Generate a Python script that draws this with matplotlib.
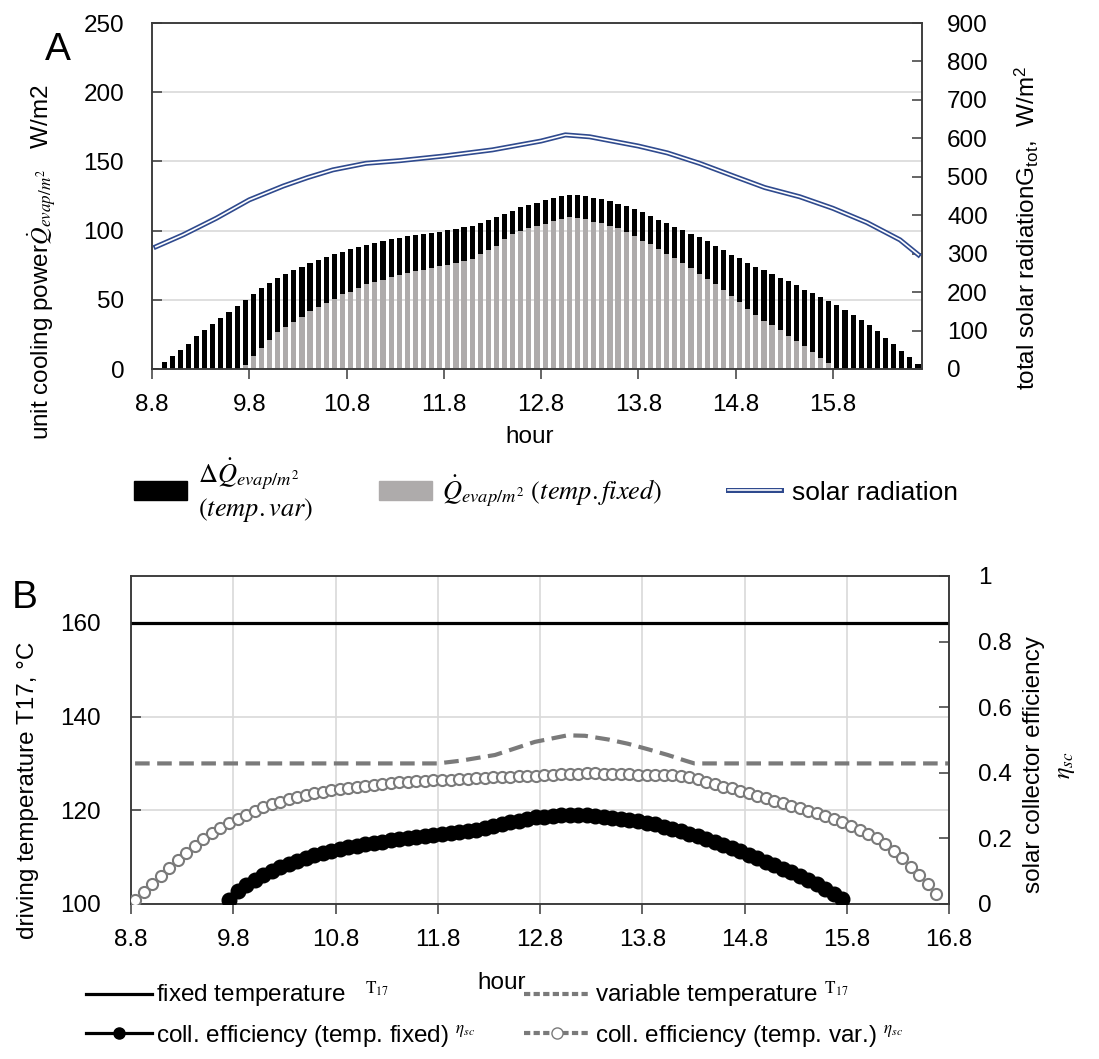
import numpy as np
import matplotlib
matplotlib.use("Agg")
import matplotlib.pyplot as plt
from matplotlib.lines import Line2D
from matplotlib.patches import Patch

plt.rcParams['font.family'] = ['Liberation Sans', 'DejaVu Sans']
plt.rcParams['mathtext.fontset'] = 'stix'

W, H = 1099, 1059

#%% data, panel A (5 min steps, 8.8 h ... 16.7 h)
hours = 8.8 + (np.arange(95) + 0.5) / 12

q_var = [1.0, 5.3, 9.7, 14.0, 18.4, 23.5, 28.0, 32.5, 36.7, 41.3, 45.4, 49.8,
         53.9, 58.3, 61.9, 66.0, 69.0, 71.4, 74.0, 76.5, 78.6, 81.0, 83.0, 84.7,
         86.4, 87.9, 89.6, 91.3, 92.2, 93.7, 94.7, 95.9, 96.8, 97.6, 98.5, 99.3,
         100.2, 101.5, 102.7, 103.6, 105.3, 108.0, 109.7, 112.1, 114.0, 117.0, 118.7, 120.1,
         121.8, 123.5, 125.0, 126.0, 125.5, 124.8, 123.5, 122.6, 121.1, 119.4, 117.7, 115.3,
         113.1, 110.4, 108.0, 105.3, 102.9, 100.2, 97.6, 95.1, 92.2, 88.8, 86.2, 82.5,
         80.1, 76.9, 74.0, 71.4, 68.4, 66.0, 63.6, 60.7, 57.3, 54.9, 51.9, 49.0,
         45.9, 42.7, 39.3, 35.7, 31.6, 27.2, 22.3, 18.2, 13.1, 8.5, 3.4]
q_fixed = [0] * 11 + [
    3.0, 9.7, 15.0, 21.0, 26.5, 30.3, 34.2, 37.6, 41.7, 44.7, 47.8, 50.5,
    53.9, 55.8, 58.3, 61.2, 62.9, 64.3, 66.3, 68.0, 69.4, 70.9, 71.8, 73.3,
    74.3, 75.5, 76.7, 78.2, 79.6, 83.0, 85.9, 89.0, 93.9, 97.6, 100.0, 102.0, 103.0,
    104.9, 106.8, 108.3, 109.7, 109.2, 108.3, 106.3, 105.3, 103.2, 101.7, 98.8, 95.9,
    92.7, 90.0, 86.4, 83.0, 80.1, 76.7, 73.3, 68.9, 64.8, 61.2, 56.8, 52.4,
    48.1, 43.7, 39.3, 35.0, 31.6, 28.2, 23.8, 20.4, 16.5, 12.6, 8.3, 4.1] + [0] * 11

solar_h = [8.84, 9.12, 9.46, 9.8, 10.15, 10.4, 10.66, 11.0, 11.35, 11.8, 12.3, 12.8,
           13.05, 13.3, 13.8, 14.1, 14.43, 14.8, 15.1, 15.46, 15.8, 16.15, 16.49, 16.68]
solar = [318, 349, 392, 440, 476, 498, 518, 535, 542, 554, 570, 593,
         609, 604, 580, 562, 535, 500, 472, 448, 418, 381, 336, 297]

#%% data, panel B
t_fixed_h = [8.8, 16.8]
t_fixed = [160, 160]
t_var_h = [8.84, 11.8, 12.03, 12.36, 12.75, 13.07, 13.24, 13.47, 13.66, 13.86, 14.05, 14.22, 14.31, 16.8]
t_var = [130, 130, 130.6, 131.8, 134.6, 136.0, 135.9, 135.1, 134.2, 133.0, 131.8, 130.6, 130.0, 130]

eff_var = [0.012, 0.037, 0.061, 0.086, 0.111, 0.134, 0.156, 0.178, 0.197, 0.215, 0.231, 0.246,
           0.259, 0.271, 0.284, 0.295, 0.304, 0.312, 0.319, 0.326, 0.332, 0.337, 0.342, 0.348,
           0.352, 0.355, 0.358, 0.361, 0.364, 0.367, 0.369, 0.371, 0.373, 0.375, 0.376, 0.377,
           0.378, 0.379, 0.380, 0.381, 0.383, 0.385, 0.386, 0.387, 0.388, 0.389, 0.390, 0.391,
           0.392, 0.394, 0.396, 0.397, 0.397, 0.398, 0.398, 0.397, 0.396, 0.396, 0.395, 0.394,
           0.393, 0.393, 0.392, 0.392, 0.390, 0.386, 0.380, 0.373, 0.366, 0.358, 0.353, 0.345,
           0.337, 0.330, 0.323, 0.315, 0.308, 0.300, 0.292, 0.285, 0.277, 0.269, 0.260, 0.249,
           0.239, 0.226, 0.214, 0.200, 0.183, 0.163, 0.139, 0.114, 0.087, 0.061, 0.030]
eff_fixed = [0.012, 0.040, 0.058, 0.074, 0.088, 0.102, 0.113, 0.122, 0.131, 0.140, 0.148, 0.155,
             0.162, 0.169, 0.174, 0.178, 0.183, 0.187, 0.190, 0.194, 0.197, 0.200, 0.203, 0.206,
             0.210, 0.213, 0.215, 0.218, 0.222, 0.226, 0.232, 0.238, 0.243, 0.249, 0.254, 0.259,
             0.264, 0.266, 0.268, 0.270, 0.271, 0.271, 0.270, 0.268, 0.265, 0.263, 0.260, 0.257,
             0.253, 0.248, 0.243, 0.236, 0.229, 0.222, 0.214, 0.207, 0.198, 0.190, 0.181, 0.171,
             0.161, 0.150, 0.140, 0.129, 0.118, 0.108, 0.097, 0.085, 0.073, 0.060, 0.046, 0.030, 0.014]
eff_fixed_h = hours[11:84]

xticks = [8.8, 9.8, 10.8, 11.8, 12.8, 13.8, 14.8, 15.8, 16.8]
xlabels = ['8.8', '9.8', '10.8', '11.8', '12.8', '13.8', '14.8', '15.8', '16.8']

#%% styles
fs = 17.5
spine_c = '#3a3a3a'
grid_c = '#d9d9d9'
gray_bar = '#aeabab'
blue = '#2f4a8e'
gcol = '#7a7a7a'


def fx(px):
    return px / W


def fy(py):
    return 1 - py / H


def style(ax, rax):
    for a in (ax, rax):
        for s in a.spines.values():
            s.set_color(spine_c)
            s.set_linewidth(1.1)
    ax.tick_params(axis='y', direction='in', length=7, width=1.1, color=spine_c, labelsize=fs, pad=20)
    rax.tick_params(axis='y', direction='in', length=7, width=1.1, color=spine_c, labelsize=fs, pad=18)
    ax.tick_params(axis='x', direction='out', length=7, width=1.1, color=spine_c, labelsize=fs, pad=11)


fig = plt.figure(figsize=(W / 100, H / 100), dpi=100)

#%% panel A
ax1 = fig.add_axes([fx(152), fy(369), fx(922) - fx(152), fy(23) - fy(369)])
ax1.set_axisbelow(True)
q_var_a = np.array(q_var)
q_fixed_a = np.array(q_fixed)
bw = 0.64 / 12
ax1.bar(hours, q_fixed_a, width=bw, color=gray_bar, zorder=2)
ax1.bar(hours, q_var_a - q_fixed_a, bottom=q_fixed_a, width=bw, color='black', zorder=2)
ax1.set_xlim(8.8, 8.8 + 95 / 12)
ax1.set_ylim(0, 250)
ax1.set_yticks(range(0, 251, 50))
ax1.set_xticks(xticks[:-1])
ax1.set_xticklabels(xlabels[:-1])
ax1.grid(axis='y', color=grid_c, lw=1.2)
ax1r = ax1.twinx()
ax1r.plot(solar_h, solar, color=blue, lw=3.6, solid_joinstyle='round', zorder=3)
ax1r.plot(solar_h, solar, color='white', lw=1.2, zorder=4)
ax1r.set_ylim(0, 900)
ax1r.set_yticks(range(0, 901, 100))
style(ax1, ax1r)

fig.text(fx(58), fy(50), 'A', fontsize=28, ha='center', va='center')
fig.text(fx(42), fy(262), 'unit cooling power' + r'$\dot{Q}_{evap/m^2}$' + '   W/m2',
         rotation=90, ha='center', va='center', fontsize=fs)
fig.text(fx(1027), fy(228), r'total solar radiation$\mathregular{G_{tot}}$,  W/m$^\mathregular{2}$',
         rotation=90, ha='center', va='center', fontsize=fs)
fig.text(fx(530), fy(437), 'hour', ha='center', va='center', fontsize=fs)

h_solar = (Line2D([], [], color=blue, lw=3.6), Line2D([], [], color='white', lw=1.2))
fig.legend([Patch(color='black'), Patch(color=gray_bar), h_solar],
           [r'$\Delta\dot{Q}_{evap/m^2}$' + '\n' + r'$(temp.var)$',
            r'$\dot{Q}_{evap/m^2}\ (temp.fixed)$', 'solar radiation'],
           loc='center', bbox_to_anchor=(fx(546), fy(490)), ncol=3, frameon=False,
           fontsize=19, handlelength=2.0, handleheight=0.7, handletextpad=0.4, columnspacing=2.5)

#%% panel B
ax2 = fig.add_axes([fx(131), fy(904), fx(949) - fx(131), fy(576) - fy(904)])
ax2.set_axisbelow(True)
ax2.plot(t_fixed_h, t_fixed, color='black', lw=2.3, zorder=3)
ax2.plot(t_var_h, t_var, color=gcol, lw=3.0, ls=(0, (3.5, 1.8)), zorder=3)
ax2.set_xlim(8.8, 16.8)
ax2.set_ylim(100, 170)
ax2.set_yticks([100, 120, 140, 160])
ax2.set_xticks(xticks)
ax2.set_xticklabels(xlabels)
ax2.grid(color=grid_c, lw=1.2)
ax2r = ax2.twinx()
ax2r.plot(hours, eff_var, ls='none', marker='o', ms=8, mfc='white', mec=gcol, mew=1.5, zorder=3)
ax2r.plot(eff_fixed_h, eff_fixed, ls='none', marker='o', ms=10.5, color='black', zorder=4)
ax2r.set_ylim(0, 1)
ax2r.set_yticks([0, 0.2, 0.4, 0.6, 0.8, 1])
ax2r.set_yticklabels(['0', '0.2', '0.4', '0.6', '0.8', '1'])
style(ax2, ax2r)
ax2.tick_params(axis='y', pad=22)
ax2r.tick_params(axis='y', pad=21)

fig.text(fx(25), fy(598), 'B', fontsize=28, ha='center', va='center')
fig.text(fx(28), fy(790), 'driving temperature T17, °C', rotation=90, ha='center', va='center', fontsize=fs)
fig.text(fx(1050), fy(765), 'solar collector efficiency\n' + r'$\eta_{sc}$', rotation=90,
         ha='center', va='center', fontsize=fs, linespacing=1.5)
fig.text(fx(502), fy(983), 'hour', ha='center', va='center', fontsize=fs)

handles = [Line2D([], [], color='black', lw=2.3),
           Line2D([], [], color='black', lw=2.3, marker='o', ms=8),
           Line2D([], [], color=gcol, lw=3.0, ls=(0, (1.5, 0.8))),
           Line2D([], [], color=gcol, lw=3.0, ls=(0, (1.5, 0.8)), marker='o', ms=8, mfc='white', mec=gcol)]
labels = ['fixed temperature   ' + r'$^{\mathrm{T}_{17}}$',
          'coll. efficiency (temp. fixed) ' + r'$^{\eta_{sc}}$',
          'variable temperature ' + r'$^{\mathrm{T}_{17}}$',
          'coll. efficiency (temp. var.) ' + r'$^{\eta_{sc}}$']
fig.legend(handles, labels, loc='upper left', bbox_to_anchor=(fx(64), fy(958)), ncol=2,
           frameon=False, fontsize=fs, handlelength=2.7, handletextpad=0.2,
           columnspacing=2.0, labelspacing=0.5)

fig.savefig('out.png', dpi=100)
